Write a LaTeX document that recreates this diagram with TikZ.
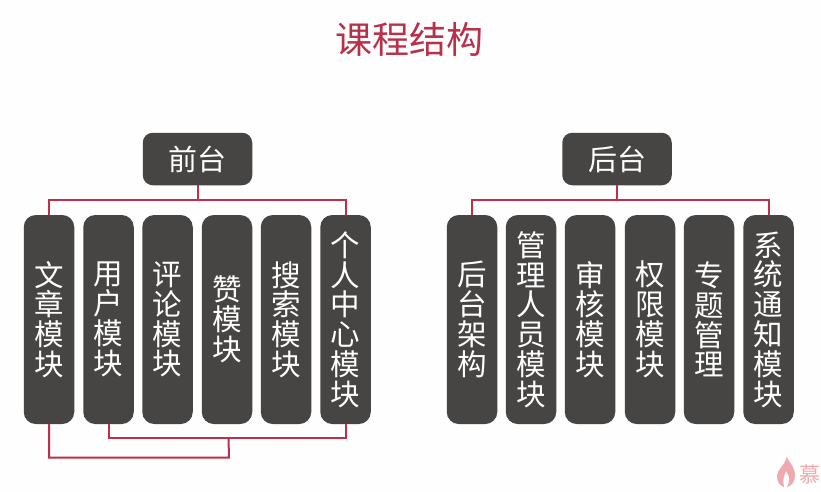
\documentclass[tikz,border=0pt]{standalone}
\usepackage{fontspec}
\newfontfamily\cjk{Noto Sans CJK SC}
\definecolor{boxgray}{HTML}{464543}
\definecolor{linered}{HTML}{BE2F48}
\definecolor{titlered}{HTML}{B9304B}
\definecolor{markred}{HTML}{EFA9AE}
\tikzset{
  topbox/.style={fill=boxgray,rounded corners=10pt,inner sep=0pt,text=white,minimum width=109.5pt,minimum height=52.5pt,font=\cjk\fontsize{29}{33}\selectfont},
  modbox/.style={fill=boxgray,rounded corners=12pt,inner sep=0pt,text=white,minimum width=50.5pt,minimum height=209pt,align=center,font=\cjk\fontsize{29.5}{29.8}\selectfont},
  link/.style={draw=linered,line width=2pt}
}
\begin{document}
\begin{tikzpicture}[x=1pt,y=-1pt]
\useasboundingbox (0,0) rectangle (821,491);
\fill[white!99.5!black] (0,0) rectangle (821,491);
\node[font=\cjk\fontsize{37}{40}\selectfont,text=titlered] (title) at (409,39) {课程结构};
\node[topbox] (front) at (197.5,159) {前台};
\node[topbox] (back) at (617,159) {后台};
\node[modbox] (a1) at (49,319.5) {文\\章\\模\\块};
\node[modbox] (a2) at (108.5,319.5) {用\\户\\模\\块};
\node[modbox] (a3) at (167.5,319.5) {评\\论\\模\\块};
\node[modbox] (a4) at (227,319.5) {赞\\模\\块};
\node[modbox] (a5) at (286,319.5) {搜\\索\\模\\块};
\node[modbox] (a6) at (345.5,319.5) {个\\人\\中\\心\\模\\块};
\node[modbox] (b1) at (472,319.5) {后\\台\\架\\构};
\node[modbox] (b2) at (531,319.5) {管\\理\\人\\员\\模\\块};
\node[modbox] (b3) at (590,319.5) {审\\核\\模\\块};
\node[modbox] (b4) at (650,319.5) {权\\限\\模\\块};
\node[modbox] (b5) at (709,319.5) {专\\题\\管\\理};
\node[modbox] (b6) at (768.5,319.5) {系\\统\\通\\知\\模\\块};
\draw[link] (front.south) -- ++(0,15) coordinate (fj);
\draw[link] (a1.north) |- (fj) -| (a6.north);
\draw[link] (back.south) -- ++(0,15) coordinate (bj);
\draw[link] (b1.north) |- (bj) -| (b6.north);
\draw[link] (a2.south) |- ++(120,13.5) coordinate (uj) -| (a6.south);
\draw[link] (a1.south) |- ++(180,33.5) -- (uj);
% watermark
\fill[markred] (786.5,457) .. controls (790,463) and (795,467) .. (795,476) .. controls (795,482) and (791,486) .. (787,487) .. controls (790,482) and (790,476) .. (786,471) .. controls (785,476) and (782,476) .. (784,487) .. controls (780,486) and (777,482) .. (777,476) .. controls (777,469) and (785,466) .. (786.5,457) -- cycle;
\node[font=\cjk\fontsize{21}{21}\selectfont,text=markred,anchor=west,inner sep=0pt] (mark) at (799.5,474) {慕};
\end{tikzpicture}
\end{document}
